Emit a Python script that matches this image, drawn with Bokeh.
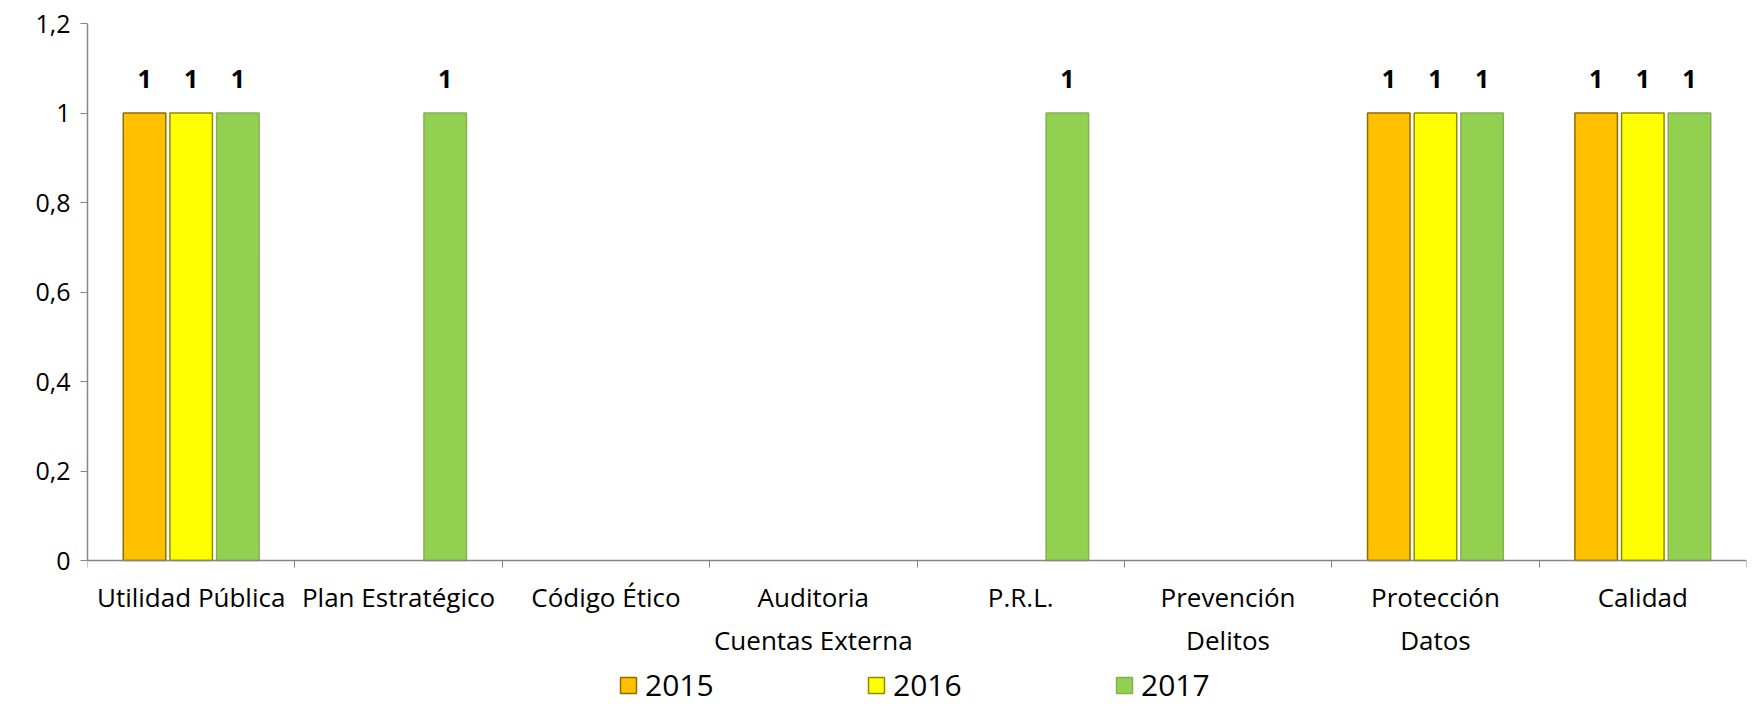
import numpy as np
from bokeh.plotting import figure
from bokeh.models import (ColumnDataSource, FixedTicker, CustomJSTickFormatter, Range1d,
                          Legend, LegendItem)
from bokeh.transform import dodge
from bokeh.core.properties import value
from bokeh.embed import file_html
from bokeh.resources import INLINE

categories = ["Utilidad Pública", "Plan Estratégico", "Código Ético", "Auditoria\nCuentas Externa",
              "P.R.L.", "Prevención\nDelitos", "Protección\nDatos", "Calidad"]
years = ["2015", "2016", "2017"]
v2015 = [1, 0, 0, 0, 0, 0, 1, 1]
v2016 = [1, 0, 0, 0, 0, 0, 1, 1]
v2017 = [1, 1, 0, 0, 1, 0, 1, 1]
y_ticks = [0, 0.2, 0.4, 0.6, 0.8, 1.0, 1.2]

series = [v2015, v2016, v2017]
fills = ["#FFC000", "#FFFF00", "#92D050"]
lines = ["#8C6D00", "#8F8A00", "#86B050"]
offsets = [-0.225, 0.0, 0.225]
FONT = "Open Sans"

# layout (pixels): frame top = 1.2, zero line, frame bottom
TOP_PX, ZERO_PX, BOTTOM_PX, H = 23, 560, 706, 706
y_max = max(y_ticks)
y_min = -(BOTTOM_PX - ZERO_PX) * y_max / (ZERO_PX - TOP_PX)

xs = [i + 0.5 for i in range(len(categories))]

p = figure(width=1748, height=H, x_range=Range1d(0, len(categories)), y_range=Range1d(y_min, y_max),
           output_backend="svg", toolbar_location=None,
           min_border_left=87, min_border_top=TOP_PX, min_border_right=2, min_border_bottom=H - BOTTOM_PX)
p.outline_line_color = None
p.xgrid.grid_line_color = None
p.ygrid.grid_line_color = None
p.background_fill_color = "white"

renderers = []
for yr, vals, fc, lc, off in zip(years, series, fills, lines, offsets):
    bx = [x for x, v in zip(xs, vals) if v > 0]
    by = [v for v in vals if v > 0]
    bt = [str(v) for v in vals if v > 0]
    bsrc = ColumnDataSource(dict(x=bx, y=by, t=bt))
    r = p.vbar(x=dodge("x", off, range=p.x_range), top="y", bottom=0, width=0.205, source=bsrc,
               fill_color=fc, line_color=lc, line_width=1.5)
    renderers.append(r)
    p.text(x=dodge("x", off, range=p.x_range), y="y", text="t", source=bsrc,
           text_align="center", text_baseline="middle", y_offset=-34,
           text_font=value(FONT), text_font_size="25px", text_font_style="bold", text_color="black")

# y axis
p.yaxis.ticker = FixedTicker(ticks=y_ticks, minor_ticks=[])
p.yaxis.bounds = (0, y_max)
p.yaxis.formatter = CustomJSTickFormatter(code="return tick.toFixed(1).replace('.', ',').replace(/,0$/, '');")
p.yaxis.axis_line_color = "#868686"
p.yaxis.axis_line_width = 1.5
p.yaxis.major_tick_line_color = "#868686"
p.yaxis.major_tick_out = 7
p.yaxis.major_tick_in = 0
p.yaxis.major_label_standoff = 10
p.yaxis.major_label_text_font = FONT
p.yaxis.major_label_text_font_size = "25px"
p.yaxis.major_label_text_color = "black"

# x axis, drawn at y = 0
p.xaxis.fixed_location = 0
p.xaxis.ticker = FixedTicker(ticks=xs, minor_ticks=list(range(len(categories) + 1)))
p.xaxis.major_label_overrides = {x: c for x, c in zip(xs, categories)}
p.xaxis.axis_line_color = "#868686"
p.xaxis.axis_line_width = 1.5
p.xaxis.major_tick_out = 0
p.xaxis.major_tick_in = 0
p.xaxis.minor_tick_line_color = "#868686"
p.xaxis.minor_tick_out = 7
p.xaxis.minor_tick_in = 0
p.xaxis.major_label_standoff = 11
p.xaxis.major_label_text_font = FONT
p.xaxis.major_label_text_font_size = "26px"
p.xaxis.major_label_text_color = "black"

legend = Legend(items=[LegendItem(label=yr, renderers=[r]) for yr, r in zip(years, renderers)],
                orientation="horizontal", location=(531, 1),
                glyph_width=20, glyph_height=20, label_standoff=7, label_width=221, spacing=0,
                padding=0, margin=0, border_line_color=None, background_fill_alpha=0,
                label_text_font=FONT, label_text_font_size="30px", label_text_color="black")
p.add_layout(legend, "center")

open("out.html", "w").write(file_html(p, INLINE))
